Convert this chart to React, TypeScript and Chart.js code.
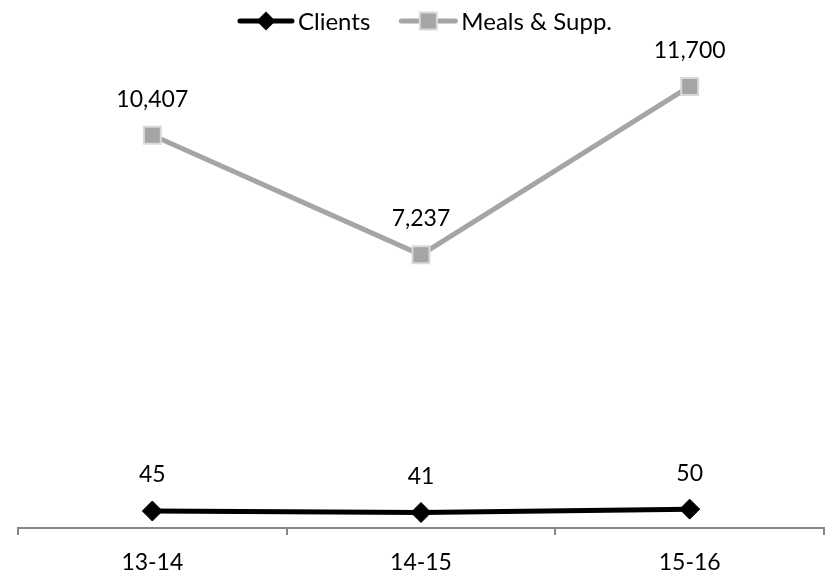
import React, { useEffect, useRef } from "react";
import { Chart, registerables } from "chart.js";

Chart.register(...registerables);

const categories = ["13-14", "14-15", "15-16"];
const clients = [45, 41, 50];
const meals = [10407, 7237, 11700];
const seriesNames = ["Clients", "Meals & Supp."];

const FONT = "Lato, 'Open Sans', sans-serif";
const FS = 23;
const LEGEND_FS = 24;

function drawMarker(ctx: CanvasRenderingContext2D, kind: string, x: number, y: number) {
  if (kind === "rectRot") {
    ctx.fillStyle = "#000";
    ctx.beginPath();
    ctx.moveTo(x, y - 9.5);
    ctx.lineTo(x + 9.5, y);
    ctx.lineTo(x, y + 9.5);
    ctx.lineTo(x - 9.5, y);
    ctx.closePath();
    ctx.fill();
  } else {
    ctx.fillStyle = "#D9D9D9";
    ctx.fillRect(x - 9.5, y - 9.5, 19, 19);
    ctx.fillStyle = "#A5A5A5";
    ctx.fillRect(x - 7.5, y - 7.5, 15, 15);
  }
}

const customLegend = {
  id: "customLegend",
  afterDraw(chart: any) {
    const ctx: CanvasRenderingContext2D = chart.ctx;
    const area = chart.chartArea;
    ctx.save();
    ctx.font = `${LEGEND_FS}px ${FONT}`;
    ctx.textBaseline = "middle";
    ctx.textAlign = "left";
    const lineLens = [56, 58];
    const textGap = 4;
    const itemGap = 29;
    const items = chart.data.datasets.map((ds: any, i: number) => ({
      label: ds.label as string,
      color: ds.borderColor as string,
      style: ds.pointStyle as string,
      lineLen: lineLens[i],
      textW: ctx.measureText(ds.label).width,
    }));
    let total = 0;
    items.forEach((it: any, i: number) => {
      total += it.lineLen + textGap + it.textW + (i < items.length - 1 ? itemGap : 0);
    });
    const cx = (area.left + area.right) / 2 + 4;
    let x = cx - total / 2;
    const y = 21;
    items.forEach((it: any) => {
      ctx.strokeStyle = it.color;
      ctx.lineWidth = 5;
      ctx.lineCap = "round";
      ctx.beginPath();
      ctx.moveTo(x + 2, y);
      ctx.lineTo(x + it.lineLen - 2, y);
      ctx.stroke();
      drawMarker(ctx, it.style, x + it.lineLen / 2, y);
      ctx.fillStyle = "#000";
      ctx.fillText(it.label, x + it.lineLen + textGap, y + 1);
      x += it.lineLen + textGap + it.textW + itemGap;
    });
    ctx.restore();
  },
};

const dataLabelPlugin = {
  id: "dataLabels",
  afterDatasetsDraw(chart: any) {
    const ctx = chart.ctx;
    ctx.save();
    ctx.font = `${FS}px ${FONT}`;
    ctx.fillStyle = "#000";
    ctx.textAlign = "center";
    ctx.textBaseline = "middle";
    chart.data.datasets.forEach((ds: any, i: number) => {
      const meta = chart.getDatasetMeta(i);
      meta.data.forEach((pt: any, j: number) => {
        const v = ds.data[j] as number;
        ctx.fillText(v.toLocaleString("en-US"), pt.x, pt.y - 36);
      });
    });
    ctx.restore();
  },
};

export default function App() {
  const ref = useRef<HTMLCanvasElement | null>(null);
  useEffect(() => {
    if (!ref.current) return;
    document.body.style.margin = "0";
    document.body.style.overflow = "hidden";
    const chart = new Chart(ref.current, {
      type: "line",
      data: {
        labels: categories,
        datasets: [
          {
            label: seriesNames[0],
            data: clients,
            yAxisID: "y1",
            borderColor: "#000000",
            backgroundColor: "#000000",
            borderWidth: 5,
            pointStyle: "rectRot",
            pointRadius: 10,
            pointBorderWidth: 1,
            pointBackgroundColor: "#000000",
            pointBorderColor: "#000000",
            tension: 0,
          },
          {
            label: seriesNames[1],
            data: meals,
            yAxisID: "y",
            borderColor: "#A5A5A5",
            backgroundColor: "#A5A5A5",
            borderWidth: 5,
            pointStyle: "rect",
            pointRadius: 12,
            pointBorderWidth: 2,
            pointBackgroundColor: "#A5A5A5",
            pointBorderColor: "#D9D9D9",
            tension: 0,
          },
        ],
      },
      options: {
        responsive: true,
        maintainAspectRatio: false,
        animation: false,
        layout: { autoPadding: false, padding: { left: 18, right: 1, top: 43, bottom: 0 } },
        plugins: {
          legend: { display: false },
          tooltip: { enabled: false },
        },
        scales: {
          x: {
            type: "category",
            offset: true,
            afterFit: (axis: any) => {
              axis.height = 48;
            },
            grid: {
              offset: true,
              drawOnChartArea: false,
              drawTicks: true,
              tickLength: 7,
              color: "#868686",
              lineWidth: 2,
            },
            border: { display: true, color: "#868686", width: 2 },
            ticks: {
              color: "#000",
              padding: 14,
              font: { family: FONT, size: FS },
            },
          },
          y: { display: false, min: 0, max: 12850 },
          y1: { display: false, min: 0, max: 1285 },
        },
      },
      plugins: [dataLabelPlugin, customLegend],
    });
    return () => chart.destroy();
  }, []);
  return (
    <div
      style={{
        position: "fixed",
        left: 0,
        top: 0,
        width: 825,
        height: 576,
        overflow: "hidden",
      }}
    >
      <canvas ref={ref} style={{ display: "block" }} />
    </div>
  );
}
